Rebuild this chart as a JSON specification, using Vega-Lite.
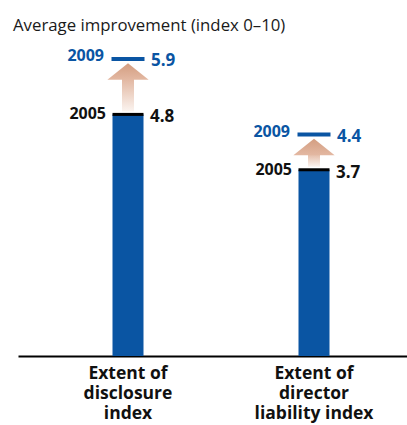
{
  "$schema": "https://vega.github.io/schema/vega-lite/v6.json",
  "autosize": "none",
  "width": 389,
  "height": 302,
  "padding": {"left": 18, "top": 54, "right": 0, "bottom": 69},
  "background": "white",
  "config": {"view": {"stroke": null}},
  "title": {
    "text": "Average improvement (index 0–10)",
    "anchor": "start",
    "frame": "group",
    "orient": "top",
    "baseline": "alphabetic",
    "offset": 0,
    "dx": -5,
    "font": "Open Sans",
    "fontSize": 16.8,
    "fontWeight": "normal",
    "color": "#1a1a1a"
  },
  "data": {
    "values": [
      {"category": "Extent of|disclosure|index", "v2005": 4.8, "v2009": 5.9},
      {"category": "Extent of|director|liability index", "v2005": 3.7, "v2009": 4.4}
    ]
  },
  "encoding": {
    "x": {
      "field": "category",
      "type": "nominal",
      "sort": null,
      "scale": {"paddingInner": 0, "paddingOuter": 0.0457, "align": 1},
      "axis": {
        "title": null,
        "labelAngle": 0,
        "ticks": false,
        "domainColor": "#000000",
        "domainWidth": 2,
        "domainOpacity": 1,
        "labelFont": "Open Sans",
        "labelFontWeight": "bold",
        "labelFontSize": 17.5,
        "labelColor": "#111111",
        "labelLineHeight": 20,
        "labelPadding": 8,
        "labelExpr": "split(datum.label, '|')"
      }
    }
  },
  "layer": [
    {
      "mark": {"type": "bar", "width": 31, "color": "#0A55A3"},
      "encoding": {
        "y": {"field": "v2005", "type": "quantitative", "scale": {"domain": [0, 6], "nice": false, "zero": true}, "axis": null}
      }
    },
    {
      "mark": {
        "type": "bar",
        "width": 12,
        "yOffset": -3,
        "y2Offset": 18,
        "fill": {"gradient": "linear", "x1": 0, "y1": 0, "x2": 0, "y2": 1, "stops": [{"offset": 0, "color": "#E0B39C"}, {"offset": 1, "color": "#FBF4F0"}]}
      },
      "encoding": {
        "y": {"field": "v2005", "type": "quantitative"},
        "y2": {"field": "v2009"}
      }
    },
    {
      "mark": {
        "type": "point",
        "shape": "M0,0.2L1,1L-1,1Z",
        "size": 1700,
        "filled": true,
        "opacity": 1,
        "strokeWidth": 0,
        "fill": {"gradient": "linear", "x1": 0, "y1": 0, "x2": 0, "y2": 1, "stops": [{"offset": 0, "color": "#D39D80"}, {"offset": 1, "color": "#E3B8A2"}]}
      },
      "encoding": {
        "y": {"field": "v2009", "type": "quantitative"}
      }
    },
    {
      "mark": {"type": "tick", "color": "#0A55A3", "thickness": 4, "size": 33, "opacity": 1},
      "encoding": {
        "y": {"field": "v2009", "type": "quantitative"}
      }
    },
    {
      "mark": {"type": "tick", "color": "#000000", "thickness": 3, "size": 31, "opacity": 1},
      "encoding": {
        "y": {"field": "v2005", "type": "quantitative"}
      }
    },
    {
      "mark": {"type": "text", "text": "2009", "align": "right", "baseline": "middle", "dx": -24, "dy": -3, "font": "Open Sans", "fontWeight": "bold", "fontSize": 16, "color": "#0A55A3"},
      "encoding": {
        "y": {"field": "v2009", "type": "quantitative"}
      }
    },
    {
      "mark": {"type": "text", "align": "left", "baseline": "middle", "dx": 23, "dy": 2, "font": "Open Sans", "fontWeight": "bold", "fontSize": 17, "color": "#0A55A3"},
      "encoding": {
        "y": {"field": "v2009", "type": "quantitative"},
        "text": {"field": "v2009", "type": "quantitative", "format": ".1f"}
      }
    },
    {
      "mark": {"type": "text", "text": "2005", "align": "right", "baseline": "middle", "dx": -22, "dy": 0, "font": "Open Sans", "fontWeight": "bold", "fontSize": 16, "color": "#111111"},
      "encoding": {
        "y": {"field": "v2005", "type": "quantitative"}
      }
    },
    {
      "mark": {"type": "text", "align": "left", "baseline": "middle", "dx": 22, "dy": 3, "font": "Open Sans", "fontWeight": "bold", "fontSize": 17, "color": "#111111"},
      "encoding": {
        "y": {"field": "v2005", "type": "quantitative"},
        "text": {"field": "v2005", "type": "quantitative", "format": ".1f"}
      }
    }
  ]
}
